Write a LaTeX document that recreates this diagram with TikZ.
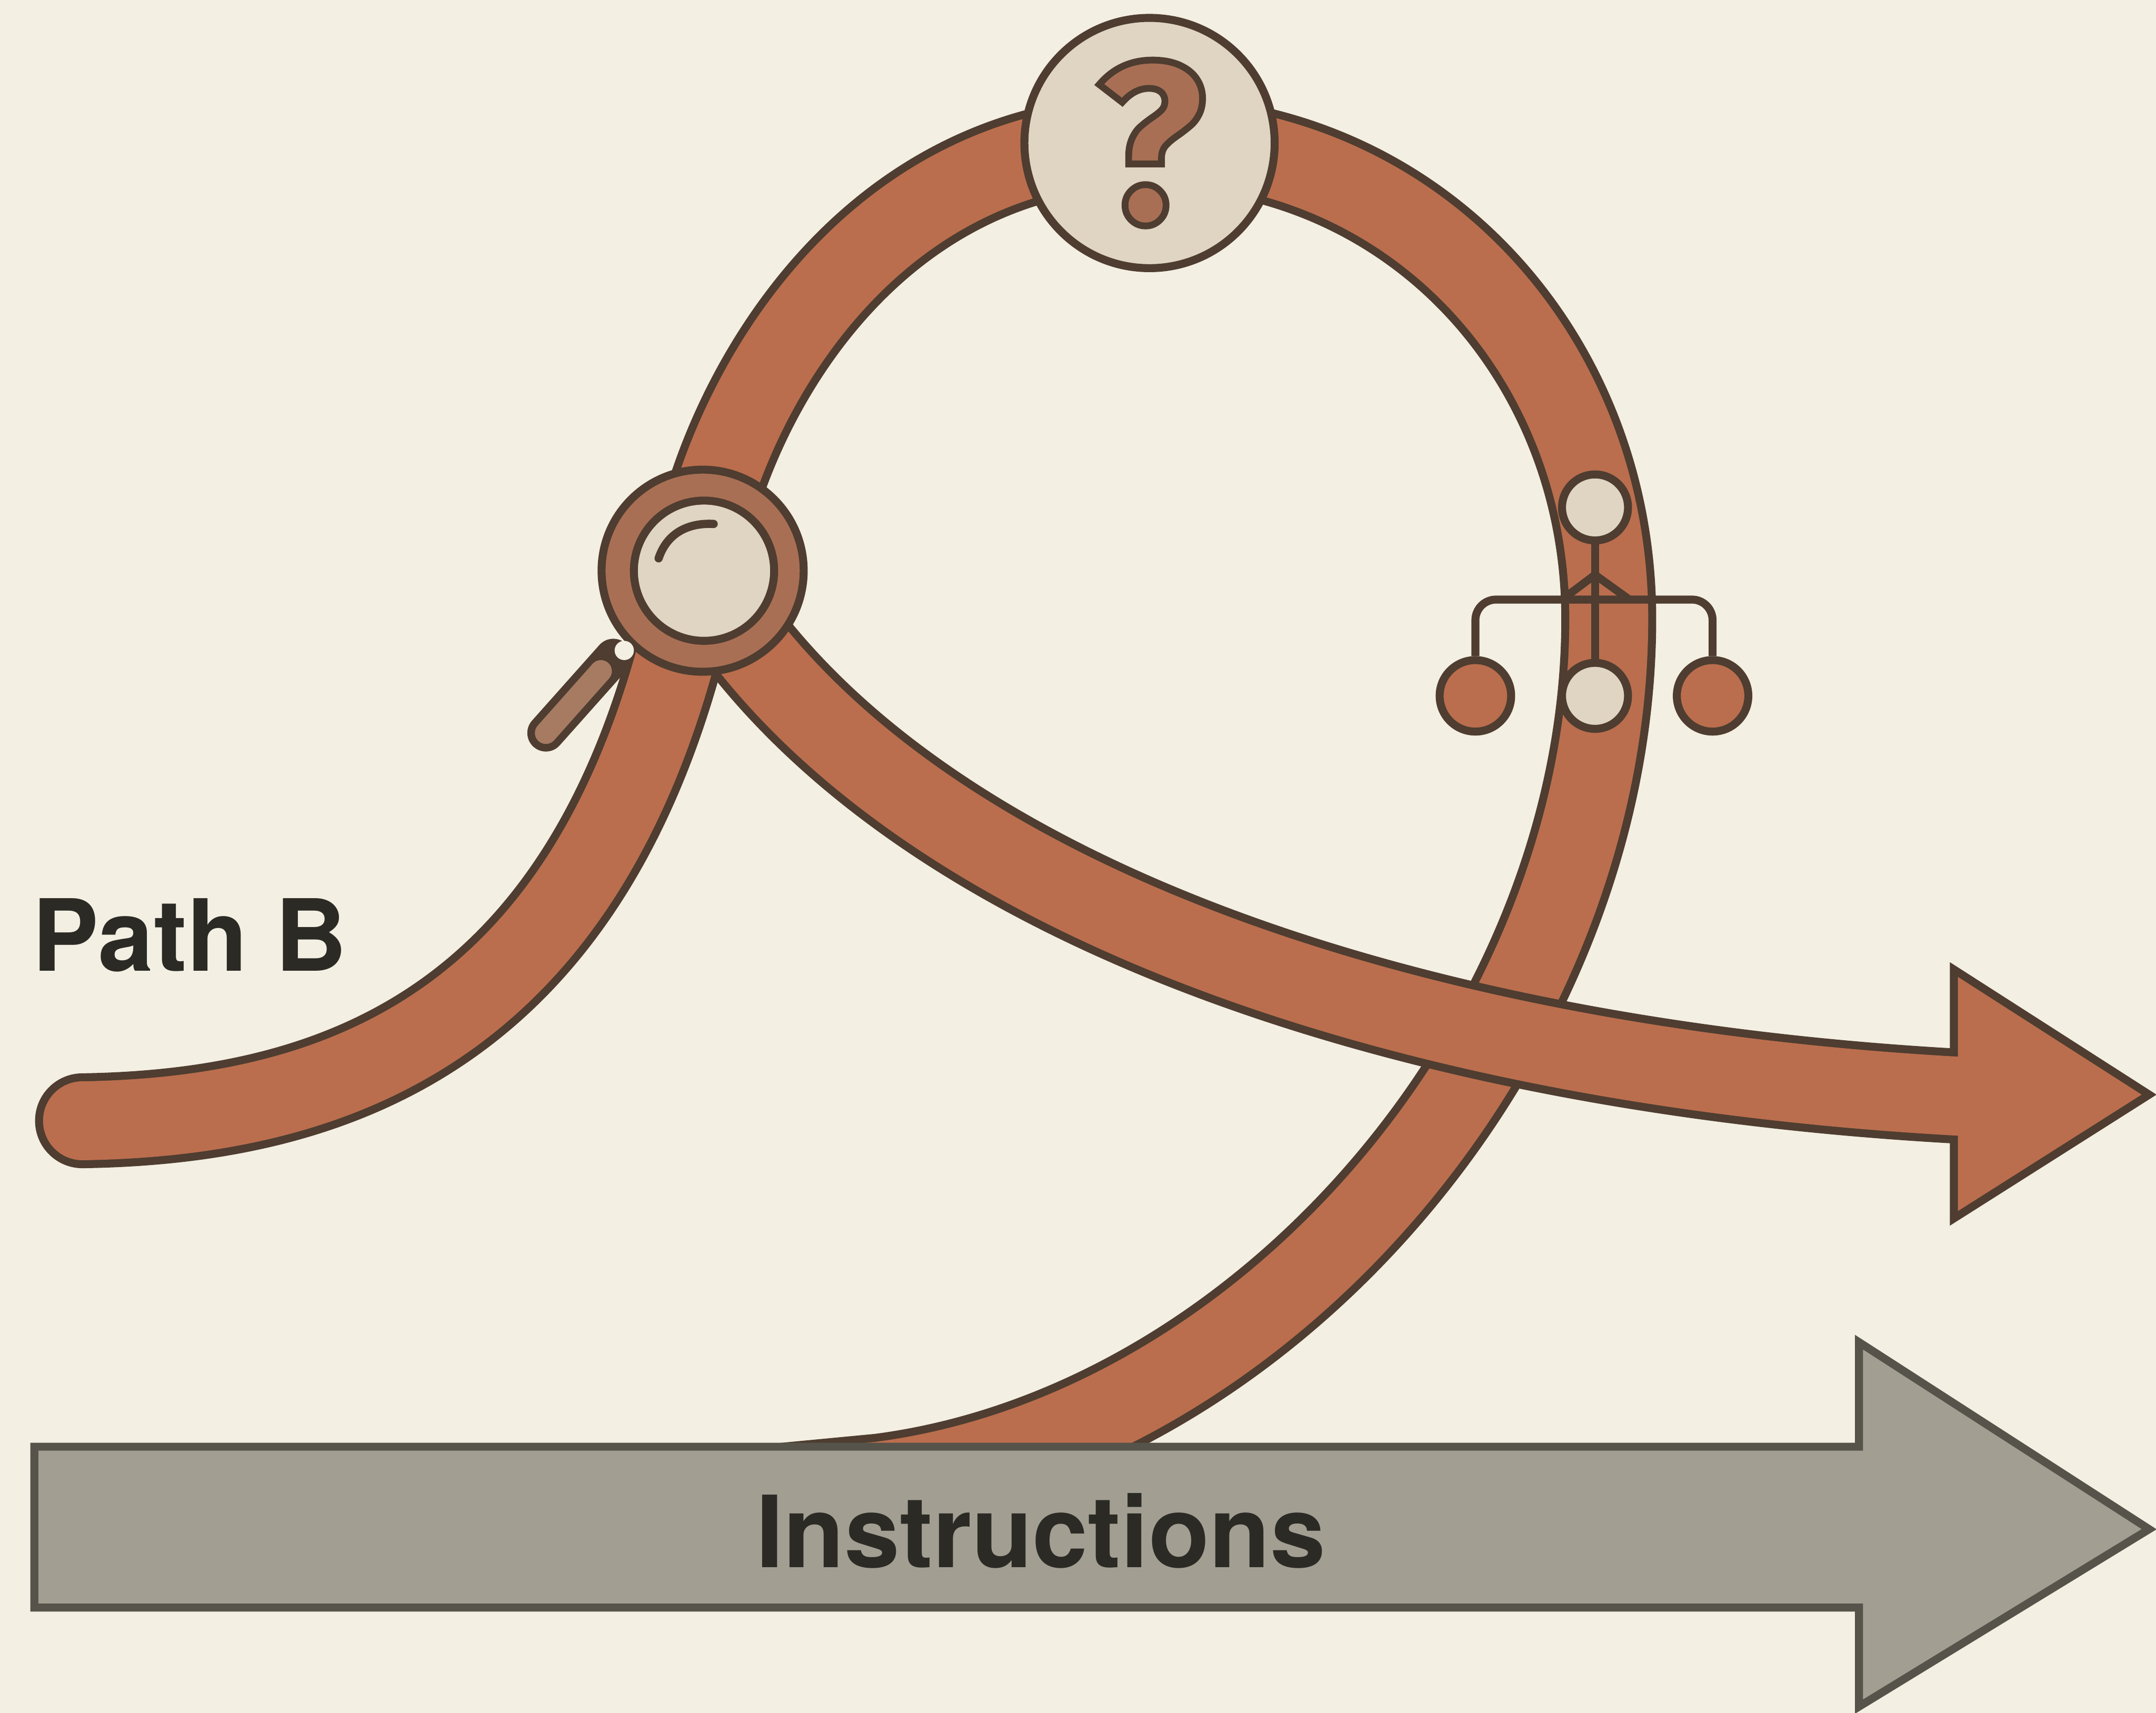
\documentclass[tikz,border=0pt]{standalone}
\usepackage{fontspec}
\setmainfont{TeX Gyre Heros}
\newfontfamily\qfont{Fira Sans}
\definecolor{bgc}{HTML}{F3EFE2}
\definecolor{rib}{HTML}{BA6E4E}
\definecolor{ink}{HTML}{4E3D30}
\definecolor{pale}{HTML}{E0D5C3}
\definecolor{ringc}{HTML}{A96F54}
\definecolor{handlec}{HTML}{A67B62}
\definecolor{greyc}{HTML}{A29E92}
\definecolor{greyink}{HTML}{55534A}
\definecolor{txt}{HTML}{2B2A25}
\tikzset{
  x=0.05cm,y=-0.05cm,
  ribouter/.style={draw=ink,line width=3.45cm,line join=round},
  ribinner/.style={draw=rib,line width=2.87cm,line join=round},
  outl/.style={draw=ink,line width=0.29cm},
  palecirc/.style={circle,inner sep=0pt,outl,fill=pale},
  ballcirc/.style={circle,inner sep=0pt,outl,fill=rib,minimum size=2.6cm},
  branch/.style={outl,rounded corners=0.75cm},
  labeltext/.style={text=txt,font=\fontsize{103}{103}\selectfont\bfseries,inner sep=0pt}
}
\newcommand{\mainribbon}{(pbstart) .. controls (255,812) and (440,740) .. (magjoin)
  .. controls (522,300) and (625,103) .. (apex)
  .. controls (1030,103) and (1170,260) .. (rightx)
  .. controls (1170,750) and (925,1040) .. (lowjoin) -- (mainend)}
\newcommand{\secondribbon}{(secstart) .. controls (680,660) and (1030,775) .. (secend)}
\begin{document}
\begin{tikzpicture}
\useasboundingbox (0,0) rectangle (1568,1245.5);
\fill[bgc] (0,0) rectangle (1568,1245.5);
\coordinate (pbstart) at (60,815);
\coordinate (magjoin) at (505,420);
\coordinate (apex) at (835,103);
\coordinate (rightx) at (1170,450);
\coordinate (lowjoin) at (640,1077);
\coordinate (mainend) at (535,1087);
\coordinate (secstart) at (530,450);
\coordinate (secend) at (1422,797);
\coordinate (secin) at (1445,798);
% main ribbon
\draw[ribouter,line cap=round] \mainribbon;
\draw[ribinner,line cap=round] \mainribbon;
% second ribbon and head
\draw[ribouter] \secondribbon;
\filldraw[outl,fill=rib,line join=miter] (1421,705) -- (1563,796) -- (1421,886) -- cycle;
\draw[ribinner] \secondribbon -- (secin);
% branching icon
\node[palecirc,minimum size=2.4cm] (treetop) at (1160,369) {};
\node[palecirc,minimum size=2.4cm] (treebot) at (1160,506) {};
\node[ballcirc] (ballL) at (1073,506) {};
\node[ballcirc] (ballR) at (1245.5,506) {};
\coordinate (junction) at (1160,436);
\coordinate (chev) at (1160,418);
\draw[outl] (treetop) -- (treebot);
\draw[branch] (junction) -| (ballL);
\draw[branch] (junction) -| (ballR);
\draw[outl] (chev) -- (1136,436);
\draw[outl] (chev) -- (1185,436);
% magnifier
\coordinate (handleA) at (397,533);
\coordinate (handleB) at (446,478);
\draw[ink,line width=1.35cm,line cap=round] (handleA) -- (handleB);
\draw[handlec,line width=0.8cm,line cap=round] (handleA) -- (437,488);
\node[circle,inner sep=0pt,outl,fill=ringc,minimum size=7.35cm] (ring) at (511,415) {};
\node[palecirc,minimum size=5.1cm] (lens) at (512,415) {};
\node[circle,inner sep=0pt,fill=bgc,minimum size=0.7cm] (glint) at (454,473) {};
\coordinate (hlA) at (479,406);
\coordinate (hlB) at (519,381);
\draw[outl,line width=0.3cm,line cap=round] (hlA) .. controls (485,388) and (500,380) .. (hlB);
% question mark
\node[palecirc,minimum size=9.1cm] (quest) at (836,104) {};
\node[inner sep=0pt,text=ringc,font=\qfont\fontsize{236}{236}\selectfont\bfseries] (qmark) at (837,104)
  {\special{pdf:code q 2 Tr 7 w 0.306 0.239 0.188 RG}?\special{pdf:code Q}};
% labels and instructions arrow
\node[labeltext] (pathb) at (138,680) {Path B};
\filldraw[draw=greyink,line width=0.29cm,fill=greyc,line join=miter] (25,1052) -- (1352,1052) -- (1352,976) -- (1563,1112) -- (1352,1241) -- (1352,1169) -- (25,1169) -- cycle;
\node[labeltext] (instr) at (757,1113) {Instructions};
\end{tikzpicture}
\end{document}
